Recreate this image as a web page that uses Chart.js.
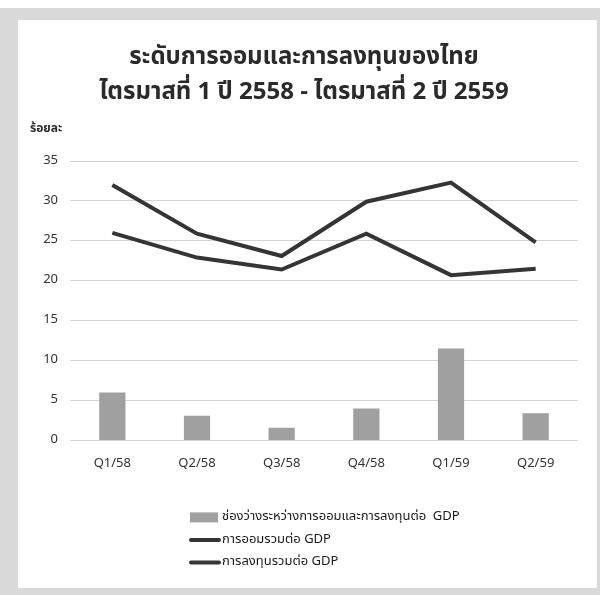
<!DOCTYPE html>
<html>
<head>
<meta charset="utf-8">
<script src="https://cdn.jsdelivr.net/npm/chart.js@4.4.1/dist/chart.umd.min.js"></script>
<style>
  html, body { margin: 0; padding: 0; background: #ffffff; }
  #frame { position: absolute; left: 0; top: 8px; width: 600px; height: 587px; background: #d9d9d9; }
  #box { position: absolute; left: 18px; top: 20px; width: 579px; height: 568px; background: #ffffff; }
  canvas { display: block; }
</style>
</head>
<body>
<div id="frame"></div>
<div id="box"><canvas id="c" width="579" height="568"></canvas></div>
<script>
const categories = ["Q1/58", "Q2/58", "Q3/58", "Q4/58", "Q1/59", "Q2/59"];
const gapValues = [6.0, 3.1, 1.6, 4.0, 11.5, 3.4];
const savingValues = [32.0, 25.9, 23.1, 29.9, 32.3, 24.8];
const investValues = [26.0, 22.9, 21.4, 25.9, 20.7, 21.5];
const yTicks = [0, 5, 10, 15, 20, 25, 30, 35];
const seriesNames = ["ช่องว่างระหว่างการออมและการลงทุนต่อ  GDP", "การออมรวมต่อ GDP", "การลงทุนรวมต่อ GDP"];
const titleLines = ["ระดับการออมและการลงทุนของไทย", "ไตรมาสที่ 1 ปี 2558 - ไตรมาสที่ 2 ปี 2559"];
const yTitle = "ร้อยละ";

const FONT = "'Noto Sans Thai', 'Noto Sans', 'DejaVu Sans Condensed', sans-serif";

const legendPlugin = {
  id: 'vlegend',
  afterDraw(chart) {
    const ctx = chart.ctx;
    const ds = chart.data.datasets;
    const x0 = 172;
    const top = chart.chartArea.bottom + 77;
    const step = 22.5;
    ctx.save();
    ctx.font = "13px " + FONT;
    ctx.textBaseline = 'middle';
    ds.forEach((d, i) => {
      const y = top + i * step;
      if (d.type === 'bar') {
        ctx.fillStyle = d.backgroundColor;
        ctx.fillRect(x0, y - 5, 28, 10);
      } else {
        ctx.strokeStyle = d.borderColor;
        ctx.lineWidth = 4;
        ctx.lineCap = 'round';
        ctx.beginPath();
        ctx.moveTo(x0 + 1, y);
        ctx.lineTo(x0 + 29, y);
        ctx.stroke();
      }
      ctx.fillStyle = '#1a1a1a';
      ctx.fillText(d.label, x0 + 32, y);
    });
    ctx.restore();
  }
};

new Chart(document.getElementById('c'), {
  data: {
    labels: categories,
    datasets: [
      { type: 'bar', label: seriesNames[0], data: gapValues, backgroundColor: '#a0a0a0',
        barPercentage: 0.31, categoryPercentage: 1.0, order: 3 },
      { type: 'line', label: seriesNames[1], data: savingValues, borderColor: '#353535', borderWidth: 4,
        pointRadius: 0, tension: 0, fill: false, order: 1, borderJoinStyle: 'miter' },
      { type: 'line', label: seriesNames[2], data: investValues, borderColor: '#353535', borderWidth: 4,
        pointRadius: 0, tension: 0, fill: false, order: 2, borderJoinStyle: 'miter' }
    ]
  },
  options: {
    responsive: false,
    animation: false,
    devicePixelRatio: 1,
    layout: { padding: { left: 12, right: 19, top: 0, bottom: 100 } },
    plugins: {
      legend: { display: false },
      tooltip: { enabled: false },
      title: {
        display: true, text: titleLines, color: '#2a2a2a',
        font: { family: FONT, size: 24, weight: 'bold', lineHeight: 1.45 },
        padding: { top: 22, bottom: 11 }
      },
      subtitle: {
        display: true, text: yTitle, align: 'start', color: '#2a2a2a',
        font: { family: FONT, size: 12, weight: 'bold' },
        padding: { top: 0, bottom: 24 }
      }
    },
    scales: {
      x: {
        grid: { display: false, drawTicks: false },
        border: { display: false },
        ticks: { color: '#333', font: { family: FONT, size: 13 }, padding: 16 }
      },
      y: {
        min: 0, max: 35,
        afterFit(s) { s.width = 40; },
        afterBuildTicks(s) { s.ticks = yTicks.map(v => ({ value: v })); },
        grid: { color: '#d2d2d2', lineWidth: 1, drawTicks: false },
        border: { display: false },
        ticks: { color: '#333', font: { family: FONT, size: 13 }, padding: 12 }
      }
    }
  },
  plugins: [legendPlugin]
});
</script>
</body>
</html>
